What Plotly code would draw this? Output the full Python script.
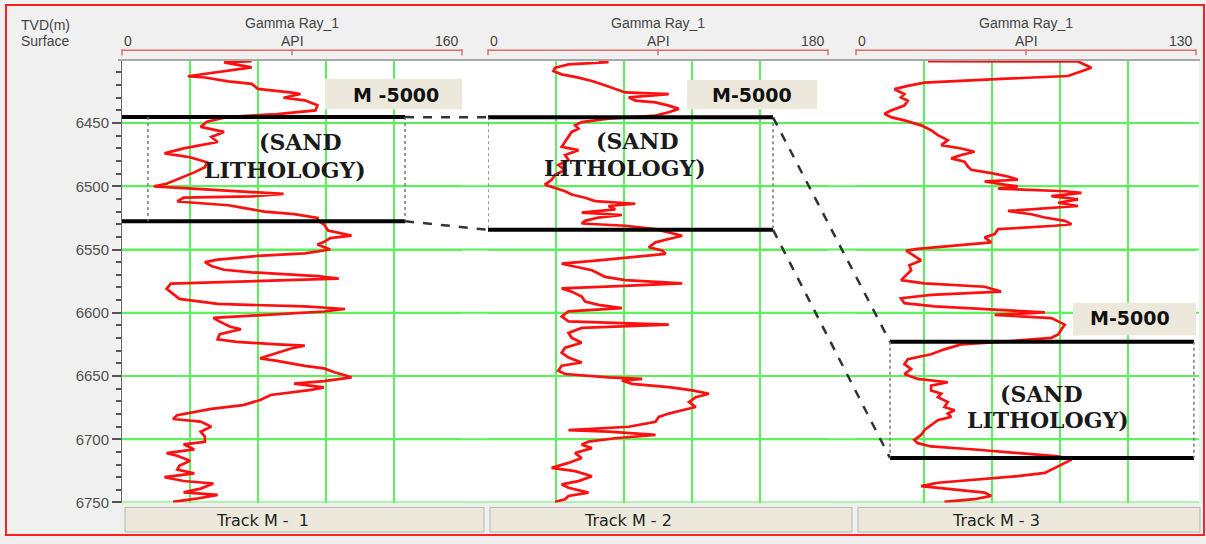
import plotly.graph_objects as go

W, H = 1206, 544

# ---------------- data ----------------
depth_ticks = [6450, 6500, 6550, 6600, 6650, 6700, 6750]
depth_range = [6750, 6401]

track_names = ["Track M -  1", "Track M - 2", "Track M - 3"]
curve_name = "Gamma Ray_1"
curve_unit = "API"
gr_max = [160, 180, 130]

depth_1 = [6401, 6402, 6406, 6413, 6414, 6417, 6419, 6423, 6426, 6427,
           6430, 6432, 6436, 6440, 6443, 6445, 6449, 6453, 6457, 6461,
           6465, 6470, 6474, 6477, 6481, 6485, 6489, 6493, 6498, 6500,
           6503, 6505, 6506, 6508, 6509, 6512, 6513, 6515, 6517, 6520,
           6522, 6525, 6527, 6530, 6535, 6539, 6541, 6544, 6546, 6550,
           6553, 6555, 6558, 6560, 6563, 6566, 6568, 6571, 6573, 6576,
           6577, 6581, 6585, 6589, 6593, 6595, 6597, 6599, 6602, 6604,
           6607, 6611, 6613, 6617, 6621, 6623, 6625, 6626, 6628, 6632,
           6636, 6638, 6642, 6644, 6647, 6651, 6654, 6656, 6659, 6661,
           6665, 6669, 6673, 6676, 6678, 6681, 6684, 6686, 6690, 6694,
           6698, 6702, 6704, 6708, 6711, 6713, 6717, 6721, 6724, 6727,
           6730, 6733, 6735, 6739, 6742, 6744, 6747, 6749.5]
gr_1 = [61, 48, 61, 31, 39, 50, 61, 64, 80, 84,
        76, 86, 92, 91, 73, 50, 40, 37, 48, 42,
        45, 29, 20, 32, 40, 39, 34, 28, 21, 15,
        45, 68, 76, 61, 29, 26, 34, 50, 57, 67,
        81, 92, 92, 95, 97, 108, 98, 95, 92, 98,
        86, 64, 45, 39, 42, 48, 61, 92, 102, 45,
        23, 21, 24, 27, 45, 86, 105, 95, 64, 43,
        46, 51, 56, 46, 45, 54, 73, 86, 80, 73,
        65, 73, 86, 95, 100, 108, 95, 81, 95, 89,
        70, 65, 57, 42, 35, 26, 24, 37, 42, 37,
        39, 39, 29, 34, 21, 26, 32, 27, 26, 34,
        20, 29, 43, 37, 29, 45, 35, 24]

depth_2 = [6401, 6401.8, 6403.6, 6406.3, 6408.9, 6411.5, 6414.1, 6416.7, 6419.3, 6423.2,
           6425.8, 6427.1, 6429.7, 6432.3, 6433.6, 6436.2, 6438.8, 6441.4, 6444.0, 6446.6,
           6449.2, 6451.8, 6454.4, 6457.0, 6460.9, 6464.8, 6468.8, 6471.4, 6475.3, 6479.2,
           6483.1, 6487.0, 6490.9, 6494.8, 6498.7, 6501.3, 6503.9, 6506.5, 6509.1, 6511.7,
           6513.8, 6515.6, 6518.2, 6520.8, 6522.7, 6524.7, 6527.3, 6529.4, 6531.2, 6533.9,
           6536.5, 6539.1, 6541.7, 6544.3, 6548.2, 6550.8, 6553.4, 6556.0, 6558.6, 6561.2,
           6563.8, 6566.4, 6569.0, 6571.6, 6574.2, 6576.8, 6578.9, 6580.7, 6583.3, 6587.2,
           6591.1, 6593.7, 6596.3, 6598.9, 6602.9, 6606.8, 6609.4, 6612.0, 6615.9, 6619.8,
           6623.7, 6627.6, 6631.5, 6635.4, 6639.3, 6641.9, 6645.8, 6648.4, 6651.0, 6652.3,
           6653.6, 6656.2, 6658.8, 6661.4, 6664.0, 6666.7, 6670.6, 6674.5, 6677.1, 6679.7,
           6682.3, 6686.2, 6690.1, 6692.7, 6694.0, 6696.6, 6699.2, 6701.8, 6704.4, 6707.0,
           6710.9, 6714.8, 6718.7, 6722.6, 6725.2, 6729.2, 6733.1, 6735.7, 6738.3, 6742.2,
           6744.8, 6747.4, 6749.5]
gr_2 = [58.5, 63.8, 42.6, 35.5, 34.6, 39.0, 47.9, 55.0, 60.3, 67.4,
        72.7, 95.7, 74.5, 78.0, 88.7, 95.7, 101.0, 95.7, 88.7, 63.8,
        49.6, 46.1, 47.9, 44.3, 42.6, 40.8, 39.0, 47.9, 40.8, 42.6,
        37.2, 40.8, 35.5, 33.7, 30.1, 35.5, 40.8, 44.3, 51.4, 56.7,
        78.0, 63.8, 67.4, 49.6, 70.9, 58.5, 51.4, 49.6, 72.7, 88.7,
        95.7, 102.8, 95.7, 88.7, 85.1, 92.2, 94.0, 78.0, 58.5, 39.0,
        47.9, 55.0, 58.5, 62.0, 72.7, 102.8, 69.1, 39.0, 44.3, 49.6,
        51.4, 58.5, 70.9, 42.6, 39.0, 42.6, 95.7, 49.6, 42.6, 44.3,
        49.6, 40.8, 39.0, 42.6, 49.6, 39.0, 37.2, 40.8, 63.8, 81.6,
        70.9, 76.2, 95.7, 108.2, 117.0, 110.0, 106.4, 110.0, 102.8, 95.7,
        90.4, 88.7, 74.5, 42.6, 63.8, 88.7, 67.4, 53.2, 49.6, 55.0,
        46.1, 49.6, 42.6, 33.7, 46.1, 55.0, 47.9, 39.0, 42.6, 53.2,
        42.6, 40.8, 35.5]

depth_3 = [6401, 6401.3, 6406.3, 6412.8, 6415.4, 6418.0, 6420.6, 6423.2, 6427.1, 6429.7,
           6432.3, 6436.2, 6440.1, 6442.7, 6445.3, 6447.9, 6451.8, 6455.7, 6459.6, 6463.5,
           6467.4, 6470.1, 6472.7, 6475.3, 6477.9, 6480.5, 6484.4, 6487.0, 6489.6, 6492.2,
           6494.8, 6496.1, 6498.7, 6500.0, 6501.8, 6503.9, 6505.2, 6507.8, 6510.4, 6513.0,
           6515.6, 6519.5, 6522.1, 6524.7, 6527.3, 6529.9, 6531.2, 6533.9, 6537.8, 6540.4,
           6544.3, 6546.9, 6549.5, 6550.8, 6554.7, 6558.6, 6562.5, 6566.4, 6571.6, 6574.2,
           6576.8, 6579.4, 6583.3, 6585.9, 6588.5, 6592.4, 6595.0, 6597.7, 6599.7, 6601.6,
           6604.2, 6606.8, 6609.4, 6613.3, 6617.2, 6619.8, 6622.4, 6625.0, 6628.9, 6632.8,
           6636.7, 6640.6, 6644.5, 6648.4, 6652.3, 6654.9, 6657.6, 6661.5, 6664.0, 6666.7,
           6670.6, 6674.5, 6677.1, 6679.7, 6682.3, 6684.9, 6688.8, 6692.7, 6696.6, 6700.5,
           6703.1, 6705.7, 6708.3, 6710.9, 6713.5, 6716.1, 6718.7, 6721.3, 6723.9, 6726.6,
           6729.2, 6731.8, 6734.4, 6737.0, 6739.6, 6742.2, 6744.8, 6747.4, 6749.5]
gr_3 = [27.5, 84.9, 90.0, 81.1, 51.7, 26.2, 19.8, 14.7, 18.5, 17.2,
        19.8, 18.5, 13.4, 10.9, 13.4, 18.5, 24.9, 28.7, 31.3, 35.1,
        32.6, 40.2, 45.3, 40.2, 36.4, 41.5, 42.8, 44.1, 51.7, 58.1,
        61.9, 49.2, 56.8, 61.9, 54.3, 79.8, 86.2, 74.7, 84.9, 77.3,
        84.9, 58.1, 67.0, 72.2, 79.8, 82.4, 76.0, 54.3, 53.0, 49.2,
        51.7, 36.4, 23.6, 19.2, 22.3, 24.9, 20.4, 21.1, 18.5, 17.2,
        26.2, 49.2, 55.5, 28.7, 17.2, 18.5, 30.0, 51.7, 72.2, 53.0,
        74.7, 77.3, 79.8, 78.5, 77.3, 74.7, 59.4, 40.2, 33.8, 28.7,
        19.8, 18.5, 21.1, 18.5, 23.6, 35.1, 28.7, 28.7, 32.6, 31.3,
        35.1, 33.8, 37.7, 35.1, 36.4, 31.3, 28.7, 26.2, 24.9, 22.3,
        23.6, 28.7, 46.6, 61.9, 77.3, 82.4, 79.8, 77.3, 74.7, 72.2,
        61.9, 46.6, 31.3, 24.9, 37.7, 49.2, 51.7, 45.3, 33.8]

marker_label = ["M -5000", "M-5000", "M-5000"]
zone_label = ["(SAND", "LITHOLOGY)"]
zone_top = [6445.3, 6445.5, 6623.0]
zone_base = [6527.6, 6534.4, 6714.8]
zone_line_start = [0, 0, 13]
zone_box_left = [12.2, 0, 13]
zone_right = [133.2, 150.9, 129.2]
label_box_x = [(95.5, 160.5), (105.4, 174.2), (83.0, 130.4)]
label_box_y = [(6415, 6439), (6416, 6439), (6592, 6618)]
label_text_xy = [(129, 6427.5), (139.8, 6428), (104.8, 6604.5)]
sand_xy = [(84, 6464.8), (79.4, 6464), (71.1, 6664.3)]
litho_xy = [(76.7, 6487.3), (72.5, 6485.7), (73.4, 6685)]

depths = [depth_1, depth_2, depth_3]
grs = [gr_1, gr_2, gr_3]

track_px = [(122, 462), (488, 828), (856, 1196)]
plot_top, plot_bot = 62, 510


def px(x):
    return x / W


def py(y):
    return 1 - y / H


GREEN = "#5cf05c"
RED = "#ff1010"
BRACKET = "#e46a6a"
TXT = "#444444"
BEIGE = "#ece9dc"

fig = go.Figure()

axnames = ["x", "x2", "x3"]
for i in range(3):
    fig.add_trace(go.Scatter(
        x=grs[i], y=depths[i], mode="lines",
        line=dict(color=RED, width=2.7),
        xaxis=axnames[i], yaxis="y", showlegend=False, hoverinfo="skip"))
    for d in (zone_top[i], zone_base[i]):
        fig.add_trace(go.Scatter(
            x=[zone_line_start[i], zone_right[i]], y=[d, d], mode="lines",
            line=dict(color="black", width=4),
            xaxis=axnames[i], yaxis="y", showlegend=False, hoverinfo="skip"))
    for xv in (zone_box_left[i], zone_right[i]):
        fig.add_trace(go.Scatter(
            x=[xv, xv], y=[zone_top[i], zone_base[i]], mode="lines",
            line=dict(color="#777777", width=1.5, dash="dot"),
            xaxis=axnames[i], yaxis="y", showlegend=False, hoverinfo="skip"))

shapes = []
annotations = []


def note(text, x, y, size, family="Liberation Sans", color=TXT, xanchor="center",
         xref="paper", yref="paper"):
    annotations.append(dict(text=text, xref=xref, yref=yref, x=x, y=y,
                            xanchor=xanchor, yanchor="middle", showarrow=False,
                            font=dict(family=family, size=size, color=color)))


shapes.append(dict(type="rect", xref="paper", yref="paper",
                   x0=px(120), x1=px(1199), y0=py(plot_bot), y1=py(plot_top),
                   fillcolor="white", line=dict(width=0), layer="below"))
for d in depth_ticks:
    shapes.append(dict(type="line", xref="paper", yref="y",
                       x0=px(track_px[0][0]), x1=px(1199), y0=d, y1=d,
                       line=dict(color=GREEN, width=2), layer="below"))

shapes.append(dict(type="line", xref="paper", yref="paper",
                   x0=px(118), x1=px(1200), y0=py(61), y1=py(61),
                   line=dict(color="#a8a8a8", width=2)))


def gr_to_paper(i, v):
    l, r = track_px[i]
    return px(l + v / gr_max[i] * (r - l))


for i in range(3):
    l, r = track_px[i]
    c = (l + r) / 2
    note(curve_name, px(c), py(23), 14)
    note("0", px(l), py(42), 14, xanchor="left")
    note(curve_unit, px(c), py(42), 14)
    note(str(gr_max[i]), px(r - 1), py(42), 14, xanchor="right")
    shapes.append(dict(type="line", xref="paper", yref="paper",
                       x0=px(l), x1=px(r), y0=py(51), y1=py(51),
                       line=dict(color=BRACKET, width=1.5)))
    for xx in (l, c, r):
        shapes.append(dict(type="line", xref="paper", yref="paper",
                           x0=px(xx), x1=px(xx), y0=py(50), y1=py(56),
                           line=dict(color=BRACKET, width=1.5)))
    bl = l + 3 if i == 0 else l + 2
    br = track_px[i + 1][0] - 4 if i < 2 else 1200
    shapes.append(dict(type="rect", xref="paper", yref="paper",
                       x0=px(bl), x1=px(br), y0=py(540), y1=py(515),
                       fillcolor=BEIGE, line=dict(color="#b8b8b0", width=1)))
    note(track_names[i], px(c - 30), py(528), 16, family="DejaVu Sans", color="#222222")
    xa = axnames[i]
    shapes.append(dict(type="rect", xref=xa, yref="y",
                       x0=label_box_x[i][0], x1=label_box_x[i][1],
                       y0=label_box_y[i][0], y1=label_box_y[i][1],
                       fillcolor=BEIGE, line=dict(width=0)))
    note("<b>%s</b>" % marker_label[i], label_text_xy[i][0], label_text_xy[i][1], 19,
         family="DejaVu Sans", color="#111111", xref=xa, yref="y")
    note("<b>%s</b>" % zone_label[0], sand_xy[i][0], sand_xy[i][1], 22,
         family="DejaVu Serif", color="#1a1a1a", xref=xa, yref="y")
    note("<b>%s</b>" % zone_label[1], litho_xy[i][0], litho_xy[i][1], 22,
         family="DejaVu Serif", color="#1a1a1a", xref=xa, yref="y")

for a, b in ((0, 1), (1, 2)):
    for za, zb in ((zone_top[a], zone_top[b]), (zone_base[a], zone_base[b])):
        shapes.append(dict(type="line", xref="paper", yref="y",
                           x0=gr_to_paper(a, zone_right[a]), y0=za,
                           x1=gr_to_paper(b, zone_line_start[b]), y1=zb,
                           line=dict(color="#333333", width=2.5, dash="dash")))

note("TVD(m)", px(19), py(25), 14, xanchor="left")
note("Surface", px(19), py(42), 14, xanchor="left")

shapes.append(dict(type="rect", xref="paper", yref="paper",
                   x0=px(6), x1=px(1204), y0=py(543), y1=py(5),
                   line=dict(color="#ff2020", width=2), fillcolor="rgba(0,0,0,0)"))

layout = dict(
    width=W, height=H,
    margin=dict(l=0, r=0, t=0, b=0),
    paper_bgcolor="#f0f0f0",
    plot_bgcolor="white",
    showlegend=False,
    shapes=shapes,
    annotations=annotations,
    yaxis=dict(domain=[py(plot_bot), py(plot_top)], range=depth_range,
               tickvals=depth_ticks, ticks="outside", ticklen=9, tickwidth=1.5,
               tickcolor="#555555", showline=True, linecolor="#666666", linewidth=1,
               showgrid=True, gridcolor=GREEN, gridwidth=2, zeroline=False,
               tickfont=dict(family="Liberation Sans", size=15, color="#505050"),
               minor=dict(tick0=6400, dtick=10, ticks="outside", ticklen=5,
                          tickcolor="#555555", tickwidth=1.5, showgrid=False),
               anchor="x"),
)
for i in range(3):
    key = "xaxis" if i == 0 else "xaxis%d" % (i + 1)
    l, r = track_px[i]
    layout[key] = dict(domain=[px(l), px(r)], range=[0, gr_max[i]],
                       tickvals=[gr_max[i] * k / 5 for k in range(6)],
                       showticklabels=False, ticks="", showgrid=True,
                       gridcolor=GREEN, gridwidth=2, zeroline=False,
                       showline=False, anchor="y")

fig.update_layout(**layout)
reset_css = (
    "document.documentElement.style.margin='0';document.body.style.margin='0';"
    "document.body.style.overflow='hidden';document.documentElement.style.overflow='hidden';"
)
fig.write_html("out.html", config={"displayModeBar": False}, post_script=reset_css)
